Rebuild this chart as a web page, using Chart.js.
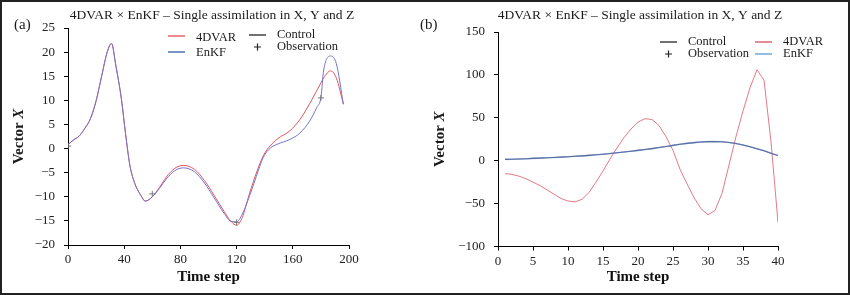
<!DOCTYPE html>
<html>
<head>
<meta charset="utf-8">
<script src="https://cdn.jsdelivr.net/npm/chart.js@4.4.1/dist/chart.umd.min.js"></script>
<style>
  body { margin: 0; background: #fff; }
  #fig { position: relative; width: 850px; height: 295px; overflow: hidden; }
  canvas { position: absolute; top: 0; }
  #frame { position: absolute; left: 0; top: 0; width: 850px; height: 295px; box-sizing: border-box; border: 2px solid #222; pointer-events: none; }
</style>
</head>
<body>
<div id="fig">
  <canvas id="chartA" width="425" height="295" style="left:0"></canvas>
  <canvas id="chartB" width="435" height="295" style="left:415px"></canvas>
  <div id="frame"></div>
</div>
<script>
// panel (a): 200 time steps
const stepsA = [0, 4, 8, 12, 16, 20, 24, 28, 31, 34, 38, 41, 44, 47, 52, 55, 60, 65, 70, 76, 82, 90, 97, 104, 111, 116, 120, 124, 129, 134, 139, 144, 149, 158, 165, 172, 177, 180, 182, 187, 191, 196];
const dvarA = [0.8, 1.8, 2.6, 4.2, 6.2, 9.9, 15.1, 20.1, 21.8, 17.3, 10.3, 3, -3.4, -6.8, -9.8, -10.9, -10, -8.1, -5.9, -4.1, -3.5, -4.3, -6.6, -9.7, -13, -15.1, -15.9, -14.3, -9.5, -5.1, -1.5, 0.6, 2, 3.7, 6, 9.3, 12, 13.6, 14.7, 16.1, 14.6, 9.2];
const enkfA = [0.8, 1.8, 2.6, 4.2, 6.2, 9.9, 15.1, 20.1, 21.8, 17.3, 10.3, 3, -3.4, -6.8, -9.8, -10.9, -10, -8.3, -6.3, -4.6, -4, -4.8, -7.1, -10.2, -13.4, -15.1, -15.2, -13.6, -10, -5.8, -1.8, 0.1, 0.9, 1.9, 3.2, 5.7, 8.5, 10.6, 16.3, 19.2, 17.6, 9.2];
const obsStepsA = [0, 60, 120, 180];
const obsA = [0.5, -9.4, -15.3, 10.5];
const xTicksA = { min: 0, max: 200, step: 40 };
const yTicksA = { min: -20, max: 25, step: 5 };

// panel (b): 40 time steps
const stepsB = [1, 2, 3, 4, 5, 6, 7, 8, 9, 10, 11, 12, 13, 14, 15, 16, 17, 18, 19, 20, 21, 22, 23, 24, 25, 26, 27, 28, 29, 30, 31, 32, 33, 34, 35, 36, 37, 38, 39, 40];
const dvarB = [-15, -16, -18, -21, -25, -29, -34, -39, -44, -47, -48, -45, -37, -25, -12, 2, 15, 27, 37, 45, 49, 48, 41, 28, 12, -10, -27, -43, -56, -63, -58, -38, -5, 28, 58, 85, 106, 94, 22, -72];
const controlB = [1.5, 1.7, 2, 2.3, 2.7, 3, 3.4, 3.8, 4.2, 4.6, 5.1, 5.6, 6.2, 6.9, 7.6, 8.4, 9.2, 10.1, 11, 12, 13, 14.1, 15.3, 16.6, 17.9, 19.1, 20.2, 21.1, 21.8, 22.2, 22.3, 22, 21.2, 20, 18.3, 16.3, 14, 11.5, 8.8, 6];
const enkfB = [1.5, 1.7, 2, 2.3, 2.7, 3, 3.4, 3.8, 4.2, 4.6, 5.1, 5.6, 6.2, 6.9, 7.6, 8.4, 9.2, 10.1, 11, 12, 13, 14.1, 15.3, 16.6, 17.9, 19.1, 20.2, 21.1, 21.8, 22.2, 22.3, 22, 21.2, 20, 18.3, 16.3, 14, 11.5, 8.8, 6];
const xTicksB = { min: 0, max: 40, step: 5 };
const yTicksB = { min: -100, max: 150, step: 50 };

const TITLE = '4DVAR \u00d7 EnKF \u2013 Single assimilation in X, Y and Z';
const SERIF = '"Liberation Serif", "DejaVu Serif", serif';

function xy(xs, ys) {
  return xs.map((x, i) => ({ x: x, y: ys[i] }));
}

function minus(v) {
  return String(v).replace('-', '\u2212');
}

// title, panel letter, y title and the two-column legend
const overlay = {
  id: 'overlay',
  afterDraw(chart, args, opts) {
    const ctx = chart.ctx;
    const a = chart.chartArea;
    ctx.save();
    ctx.fillStyle = '#1a1a1a';
    ctx.textBaseline = 'middle';

    ctx.font = '13.5px ' + SERIF;
    ctx.textAlign = 'center';
    ctx.fillText(TITLE, (a.left + a.right) / 2 + opts.titleShift, 15);

    ctx.font = '15px ' + SERIF;
    ctx.textAlign = 'left';
    ctx.fillText(opts.panel, opts.panelX, 25);

    // "Vector X" with an italic X
    ctx.save();
    ctx.translate(opts.yTitleX, (a.top + a.bottom) / 2);
    ctx.rotate(-Math.PI / 2);
    ctx.font = 'bold 15px ' + SERIF;
    const w1 = ctx.measureText('Vector ').width;
    ctx.font = 'italic bold 15px ' + SERIF;
    const w2 = ctx.measureText('X').width;
    ctx.font = 'bold 15px ' + SERIF;
    ctx.fillText('Vector ', -(w1 + w2) / 2, 0);
    ctx.font = 'italic bold 15px ' + SERIF;
    ctx.fillText('X', -(w1 + w2) / 2 + w1, 0);
    ctx.restore();

    ctx.font = '12.5px ' + SERIF;
    opts.legend.forEach(item => {
      const ds = chart.data.datasets[item.ds];
      ctx.strokeStyle = ds.legendColor;
      ctx.lineWidth = 1.2;
      ctx.beginPath();
      if (ds.showLine === false) {
        ctx.moveTo(item.x + 5, item.y);
        ctx.lineTo(item.x + 12, item.y);
        ctx.moveTo(item.x + 8.5, item.y - 3.5);
        ctx.lineTo(item.x + 8.5, item.y + 3.5);
      } else {
        ctx.moveTo(item.x, item.y);
        ctx.lineTo(item.x + 17, item.y);
      }
      ctx.stroke();
      ctx.fillText(ds.label, item.x + 28, item.y + (item.dy || 0));
    });
    ctx.restore();
  }
};

function axes(xt, yt, yWidth, xHeight) {
  const tickFont = { family: SERIF, size: 13 };
  return {
    x: {
      type: 'linear', min: xt.min, max: xt.max,
      afterFit: s => { s.height = xHeight; },
      grid: { drawOnChartArea: false, drawTicks: true, tickLength: 4, color: '#000' },
      border: { display: true, color: '#000', width: 1 },
      ticks: { stepSize: xt.step, font: tickFont, color: '#222', padding: 3, maxRotation: 0, callback: minus },
      title: { display: true, text: 'Time step', color: '#111', font: { family: SERIF, size: 15, weight: 'bold' }, padding: { top: 0, bottom: 9 } }
    },
    y: {
      type: 'linear', min: yt.min, max: yt.max,
      afterFit: s => { s.width = yWidth; },
      grid: { drawOnChartArea: false, drawTicks: true, tickLength: 4, color: '#000' },
      border: { display: true, color: '#000', width: 1 },
      ticks: { stepSize: yt.step, font: tickFont, color: '#222', padding: 9, callback: minus }
    }
  };
}

const base = {
  responsive: false,
  animation: false,
  elements: { point: { radius: 0 }, line: { borderWidth: 1 } },
  plugins: { legend: { display: false }, tooltip: { enabled: false } }
};

new Chart(document.getElementById('chartA'), {
  type: 'line',
  data: {
    datasets: [
      { label: 'Observation', data: xy(obsStepsA, obsA), showLine: false, pointStyle: 'cross', pointRadius: 3, borderColor: '#777', borderWidth: 1, legendColor: '#222' },
      { label: 'EnKF', data: xy(stepsA, enkfA), borderColor: '#7474cc', cubicInterpolationMode: 'monotone', legendColor: '#1f4e9a' },
      { label: '4DVAR', data: xy(stepsA, dvarA), borderColor: '#e2545e', cubicInterpolationMode: 'monotone', legendColor: '#e03a3a' },
      { label: 'Control', data: [], borderColor: '#111', legendColor: '#111' }
    ]
  },
  options: Object.assign({}, base, {
    layout: { padding: { left: 0, right: 76, top: 28, bottom: 0 } },
    scales: axes(xTicksA, yTicksA, 68, 50),
    plugins: Object.assign({}, base.plugins, {
      overlay: {
        titleShift: 3.5, panel: '(a)', panelX: 14, yTitleX: 19,
        legend: [
          { ds: 2, x: 168, y: 36, dy: 2 },
          { ds: 1, x: 168, y: 52, dy: 1 },
          { ds: 3, x: 249, y: 35 },
          { ds: 0, x: 249, y: 47 }
        ]
      }
    })
  }),
  plugins: [overlay]
});

new Chart(document.getElementById('chartB'), {
  type: 'line',
  data: {
    datasets: [
      { label: 'EnKF', data: xy(stepsB, enkfB), borderColor: 'rgba(120,160,230,0.55)', borderWidth: 1.6, legendColor: '#4a90d0' },
      { label: 'Control', data: xy(stepsB, controlB), borderColor: '#2a2a55', borderWidth: 1.1, legendColor: '#111' },
      { label: '4DVAR', data: xy(stepsB, dvarB), borderColor: '#e47a88', legendColor: '#d0405a' },
      { label: 'Observation', data: [], showLine: false, pointStyle: 'cross', legendColor: '#222' }
    ]
  },
  options: Object.assign({}, base, {
    layout: { padding: { left: 0, right: 72, top: 32, bottom: 0 } },
    scales: axes(xTicksB, yTicksB, 83, 48.5),
    plugins: Object.assign({}, base.plugins, {
      overlay: {
        titleShift: 2, panel: '(b)', panelX: 5, yTitleX: 25,
        legend: [
          { ds: 1, x: 245, y: 42 },
          { ds: 3, x: 245, y: 54 },
          { ds: 2, x: 340, y: 42 },
          { ds: 0, x: 340, y: 54 }
        ]
      }
    })
  }),
  plugins: [overlay]
});
</script>
</body>
</html>
